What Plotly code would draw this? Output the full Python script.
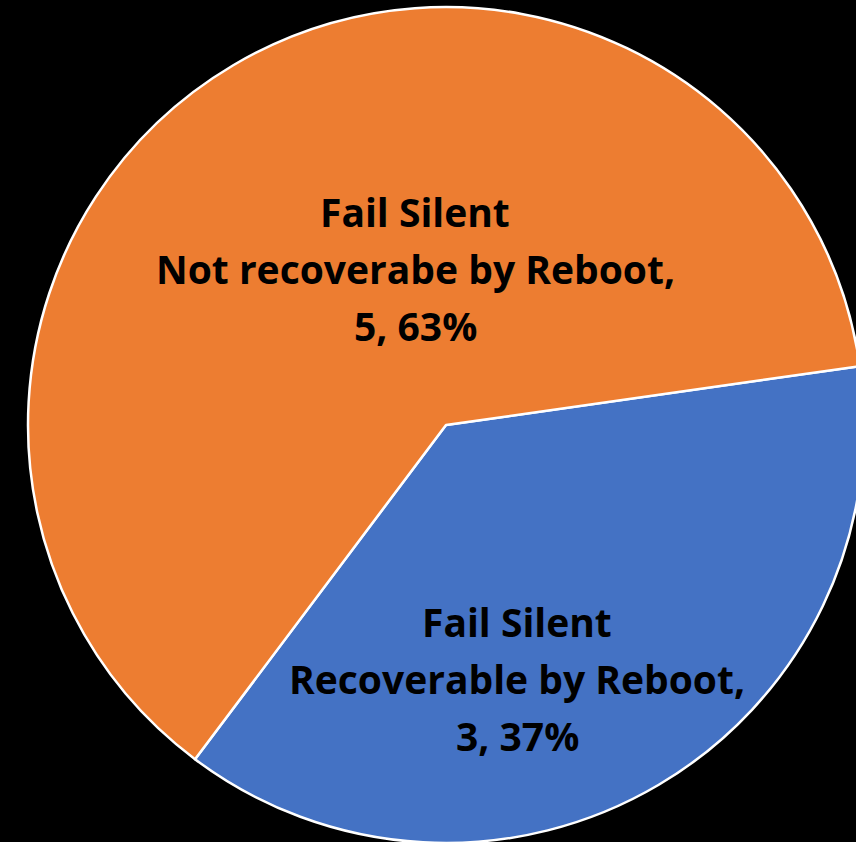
import plotly.graph_objects as go

# ---- data ----
labels = ["Fail Silent<br>Recoverable by Reboot", "Fail Silent<br>Not recoverabe by Reboot"]
values = [3, 5]
percents = [37, 63]
colors = ["#4472C4", "#ED7D31"]

# ---- geometry (pixels) ----
W, H = 870, 850
cx, cy, r = 446, 425, 418

fig = go.Figure(go.Pie(
    labels=labels,
    values=values,
    sort=False,
    direction="clockwise",
    rotation=81.9,
    marker=dict(colors=colors, line=dict(color="white", width=2.5)),
    textinfo="none",
    hoverinfo="label+value+percent",
    showlegend=False,
    domain=dict(x=[(cx - r) / W, (cx + r) / W], y=[1 - (cy + r) / H, 1 - (cy - r) / H]),
))

# label line centres (pixel) for each slice
label_pos = [
    (517, [621, 678, 735]),
    (415, [211, 268, 325]),
]
annotations = []
for i, (lab, val, pct) in enumerate(zip(labels, values, percents)):
    parts = lab.split("<br>")
    lines = [parts[0], parts[1] + ",", f"{val}, {pct}%"]
    x_px, ys = label_pos[i]
    for line, y_px in zip(lines, ys):
        annotations.append(dict(
            text=line, x=x_px / W, y=1 - y_px / H, xref="paper", yref="paper",
            xanchor="center", yanchor="middle", showarrow=False,
            font=dict(family="Open Sans", size=39, color="black", weight="bold"),
        ))

fig.update_layout(
    width=W, height=H,
    margin=dict(l=0, r=0, t=0, b=0),
    paper_bgcolor="black", plot_bgcolor="black",
    annotations=annotations,
)

fig.write_html(
    "out.html",
    config={"displayModeBar": False},
    post_script="document.documentElement.style.overflow='hidden';document.body.style.overflow='hidden';document.body.style.margin='0';document.documentElement.style.background='black';",
)
